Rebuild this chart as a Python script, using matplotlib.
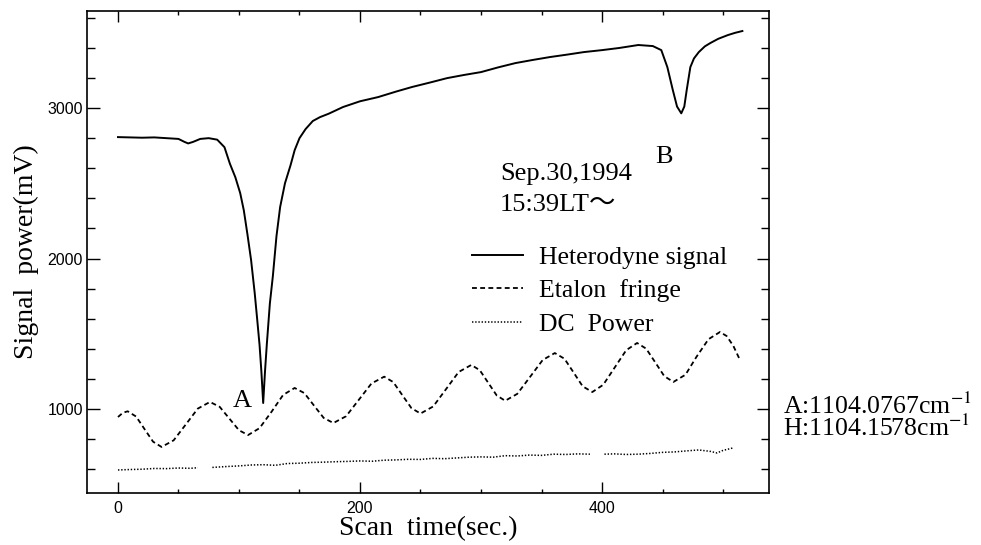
import numpy as np
import matplotlib
matplotlib.use("Agg")
import matplotlib.pyplot as plt
from matplotlib.ticker import MultipleLocator, FixedLocator

plt.rcParams['mathtext.fontset'] = 'stix'
plt.rcParams['lines.scale_dashes'] = False

SERIF = ['Liberation Serif', 'Noto Sans CJK JP', 'DejaVu Serif']
NARROW = ['Liberation Sans Narrow', 'Liberation Sans', 'DejaVu Sans']

# ---- data ----
het_t = [0, 10, 20, 30, 40, 50, 55, 58, 62, 68, 75, 82, 88, 92.5, 97, 101, 104, 107,
         110, 113, 115, 117, 118.5, 120, 121.5, 123, 125.5, 128, 131, 134, 138, 142.6,
         146, 150, 155, 161, 167, 174, 186, 200, 215, 230, 243, 258, 272, 286, 300,
         314, 328.5, 343, 357, 371, 385, 400, 414, 430, 442, 449, 454, 458.5, 462,
         465.5, 468, 470, 473, 476, 480, 485, 489.5, 496, 504, 510, 516]
het_v = [2807, 2805, 2803, 2805, 2800, 2795, 2775, 2765, 2775, 2795, 2800, 2790, 2740,
         2630, 2540, 2435, 2320, 2160, 1990, 1770, 1600, 1425, 1250, 1040, 1250, 1430,
         1700, 1884, 2150, 2342, 2500, 2620, 2720, 2800, 2860, 2914, 2940, 2962, 3007,
         3045, 3073, 3110, 3140, 3170, 3199, 3220, 3239, 3270, 3299, 3320, 3339, 3355,
         3372, 3385, 3399, 3419, 3412, 3385, 3272, 3120, 3010, 2965, 3010, 3120, 3272,
         3330, 3372, 3410, 3432, 3460, 3485, 3500, 3512]

etl_t = [0, 4, 8, 15, 22, 29, 36, 46, 56, 66, 76, 84, 92, 100, 107.5, 117, 127, 136.5,
         146, 154, 162, 170, 178, 188.5, 199, 209.5, 220, 227.5, 235, 242.5, 250, 260.5,
         271, 281.5, 292, 299, 306, 313, 320, 330, 340.5, 351, 361, 369, 376.5, 384, 392,
         401, 410.5, 420, 429, 436.5, 444, 451.5, 459, 469, 478, 488, 497.5, 503, 508.5, 514]
etl_v = [947, 975, 985, 950, 866, 783, 748, 792, 897, 1003, 1047, 1015, 937, 859, 827,
         873, 983, 1094, 1140, 1106, 1023, 941, 907, 952, 1061, 1170, 1215, 1179, 1092,
         1006, 970, 1017, 1131, 1246, 1293, 1258, 1174, 1090, 1055, 1101, 1213, 1326, 1372,
         1334, 1243, 1151, 1113, 1161, 1276, 1391, 1439, 1401, 1310, 1218, 1180, 1228, 1346,
         1464, 1512, 1485, 1420, 1326]

dc_t = [0, 10, 20, 30, 40, 50, 60, 66, 72, 78, 90, 100, 110, 120, 130, 140, 150, 160, 170,
        180, 190, 200, 210, 220, 230, 240, 250, 260, 270, 280, 290, 300, 310, 320, 330,
        340, 350, 360, 370, 380, 390, 396, 402, 410, 420, 430, 440, 450, 460, 470, 480,
        490, 495, 500, 508]
dc_v = [595, 598, 600, 605, 604, 608, 606, 610, np.nan, 612, 618, 622, 628, 630, 626, 638,
        640, 645, 647, 650, 652, 655, 653, 660, 662, 666, 665, 672, 670, 675, 680, 682, 680,
        690, 688, 694, 692, 700, 698, 702, 700, np.nan, 700, 702, 698, 700, 705, 712, 715,
        722, 728, 718, 708, 725, 741]

x_major = [0, 200, 400]
x_labels = ['0', '200', '400']
y_major = [1000, 2000, 3000]
y_labels = ['1000', '2000', '3000']

series_names = ['Heterodyne signal', 'Etalon  fringe', 'DC  Power']
wavenumbers = 'A:1104.0767cm$^{-1}$\nH:1104.1578cm$^{-1}$'

# ---- figure ----
fig = plt.figure(figsize=(9.81, 5.45), dpi=100)
ax = fig.add_axes([87/981, 52/545, 682/981, 482/545])

l1, = ax.plot(het_t, het_v, color='black', lw=1.4, solid_joinstyle='round')
l2, = ax.plot(etl_t, etl_v, color='black', lw=1.3, linestyle=(0, (3.5, 2.4)))
l3, = ax.plot(dc_t, dc_v, color='black', lw=1.1, linestyle=(0, (1.0, 1.3)))

ax.set_xlim(-25.6, 538)
ax.set_ylim(442, 3645)

ax.xaxis.set_major_locator(FixedLocator(x_major))
ax.set_xticklabels(x_labels)
ax.yaxis.set_major_locator(FixedLocator(y_major))
ax.set_yticklabels(y_labels)
ax.xaxis.set_minor_locator(MultipleLocator(50))
ax.yaxis.set_minor_locator(MultipleLocator(200))

ax.tick_params(axis='both', which='both', direction='in', top=True, right=True,
               width=1.0, color='black')
ax.tick_params(axis='x', which='major', length=8, pad=6)
ax.tick_params(axis='x', which='minor', length=3)
ax.tick_params(axis='y', which='major', length=9, pad=3)
ax.tick_params(axis='y', which='minor', length=5.5)
for lab in ax.get_xticklabels() + ax.get_yticklabels():
    lab.set_family(NARROW)
    lab.set_fontsize(11.5)

for sp in ax.spines.values():
    sp.set_linewidth(1.2)

ax.set_xlabel('Scan  time(sec.)', family=SERIF, fontsize=20, labelpad=0)
ax.set_ylabel('Signal  power(mV)', family=SERIF, fontsize=20, labelpad=6)

ax.text(95, 1013, 'A', family=SERIF, fontsize=19, va='baseline', ha='left')
ax.text(444, 2635, 'B', family=SERIF, fontsize=19, va='baseline', ha='left')
ax.text(315.7, 2522, 'Sep.30,1994', family=SERIF, fontsize=19, va='baseline', ha='left')
ax.text(315.7, 2316, '15:39LT\u301c', family=SERIF, fontsize=19, va='baseline', ha='left')

leg = ax.legend([l1, l2, l3], series_names, loc='upper left',
                bbox_to_anchor=(0.5645, 0.512), frameon=False, borderpad=0,
                borderaxespad=0, handlelength=2.0, handletextpad=0.6,
                labelspacing=0.4, prop={'family': SERIF, 'size': 18.5})

fig.text(783/981, 1 - 417/545, wavenumbers, family=SERIF, fontsize=18.5,
         va='center', ha='left', linespacing=0.8)

fig.savefig('out.png', dpi=100)
